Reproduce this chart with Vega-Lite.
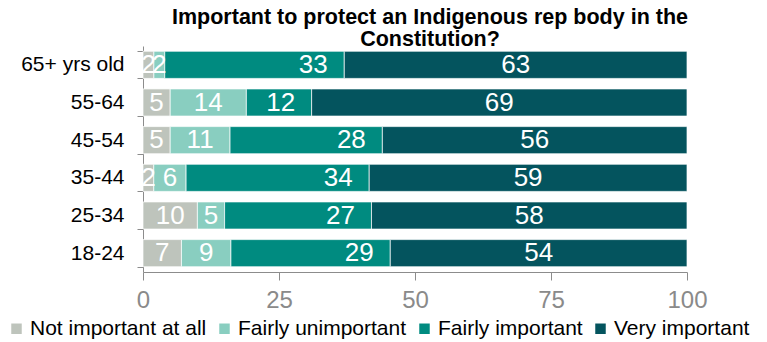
{
  "$schema": "https://vega.github.io/schema/vega-lite/v6.json",
  "width": 544,
  "height": 226,
  "autosize": {"type": "none"},
  "padding": {"left": 143, "top": 46, "right": 80, "bottom": 70},
  "config": {"font": "Liberation Sans", "view": {"stroke": null}},
  "title": {
    "text": ["Important to protect an Indigenous rep body in the", "Constitution?"],
    "fontSize": 21.5,
    "fontWeight": "bold",
    "color": "#000000",
    "anchor": "middle",
    "frame": "group",
    "dx": 15,
    "offset": -15,
    "lineHeight": 22
  },
  "data": {
    "values": [
      {"age": "65+ yrs old", "category": "Not important at all", "value": 2, "order": 1},
      {"age": "65+ yrs old", "category": "Fairly unimportant", "value": 2, "order": 2},
      {"age": "65+ yrs old", "category": "Fairly important", "value": 33, "order": 3},
      {"age": "65+ yrs old", "category": "Very important", "value": 63, "order": 4},
      {"age": "55-64", "category": "Not important at all", "value": 5, "order": 1},
      {"age": "55-64", "category": "Fairly unimportant", "value": 14, "order": 2},
      {"age": "55-64", "category": "Fairly important", "value": 12, "order": 3},
      {"age": "55-64", "category": "Very important", "value": 69, "order": 4},
      {"age": "45-54", "category": "Not important at all", "value": 5, "order": 1},
      {"age": "45-54", "category": "Fairly unimportant", "value": 11, "order": 2},
      {"age": "45-54", "category": "Fairly important", "value": 28, "order": 3},
      {"age": "45-54", "category": "Very important", "value": 56, "order": 4},
      {"age": "35-44", "category": "Not important at all", "value": 2, "order": 1},
      {"age": "35-44", "category": "Fairly unimportant", "value": 6, "order": 2},
      {"age": "35-44", "category": "Fairly important", "value": 34, "order": 3},
      {"age": "35-44", "category": "Very important", "value": 59, "order": 4},
      {"age": "25-34", "category": "Not important at all", "value": 10, "order": 1},
      {"age": "25-34", "category": "Fairly unimportant", "value": 5, "order": 2},
      {"age": "25-34", "category": "Fairly important", "value": 27, "order": 3},
      {"age": "25-34", "category": "Very important", "value": 58, "order": 4},
      {"age": "18-24", "category": "Not important at all", "value": 7, "order": 1},
      {"age": "18-24", "category": "Fairly unimportant", "value": 9, "order": 2},
      {"age": "18-24", "category": "Fairly important", "value": 29, "order": 3},
      {"age": "18-24", "category": "Very important", "value": 54, "order": 4}
    ]
  },
  "transform": [
    {"stack": "value", "groupby": ["age"], "offset": "normalize", "sort": [{"field": "order", "order": "ascending"}], "as": ["x0", "x1"]},
    {"calculate": "(datum.x0 + datum.x1) / 2", "as": "mid"}
  ],
  "encoding": {
    "y": {
      "field": "age",
      "type": "nominal",
      "sort": ["65+ yrs old", "55-64", "45-54", "35-44", "25-34", "18-24"],
      "scale": {"paddingInner": 0.28, "paddingOuter": 0.14},
      "axis": {
        "title": null,
        "tickBand": "extent",
        "domainColor": "#8c8c8c",
        "tickColor": "#8c8c8c",
        "tickSize": 6,
        "labelFontSize": 21,
        "labelColor": "#000000",
        "labelPadding": 13
      }
    }
  },
  "layer": [
    {
      "mark": {"type": "bar", "stroke": "#ffffff", "strokeWidth": 0.7},
      "encoding": {
        "x": {
          "field": "x0",
          "type": "quantitative",
          "scale": {"domain": [0, 1], "nice": false},
          "axis": {
            "title": null,
            "values": [0, 0.25, 0.5, 0.75, 1],
            "labelExpr": "format(datum.value * 100, 'd')",
            "labelFlush": false,
            "grid": false,
            "domainColor": "#8c8c8c",
            "tickColor": "#8c8c8c",
            "tickSize": 8,
            "labelFontSize": 24,
            "labelColor": "#8a8a8a",
            "labelPadding": 8
          }
        },
        "x2": {"field": "x1"},
        "color": {
          "field": "category",
          "type": "nominal",
          "scale": {
            "domain": ["Not important at all", "Fairly unimportant", "Fairly important", "Very important"],
            "range": ["#bec4bc", "#89cec0", "#008b80", "#04545e"]
          },
          "legend": {
            "title": null,
            "orient": "none",
            "direction": "horizontal",
            "columns": 4,
            "legendX": -137,
            "legendY": 272,
            "padding": 0,
            "symbolType": "square",
            "symbolSize": 110,
            "symbolStrokeWidth": 0,
            "labelFontSize": 21,
            "labelColor": "#000000",
            "labelOffset": 3,
            "columnPadding": 7,
            "labelLimit": 300
          }
        }
      }
    },
    {
      "transform": [{"filter": "datum.category != 'Fairly important'"}],
      "mark": {"type": "text", "color": "#ffffff", "fontSize": 26, "align": "center", "baseline": "middle"},
      "encoding": {
        "x": {"field": "mid", "type": "quantitative"},
        "text": {"field": "value", "type": "quantitative"}
      }
    },
    {
      "transform": [{"filter": "datum.category == 'Fairly important'"}],
      "mark": {"type": "text", "color": "#ffffff", "fontSize": 26, "align": "center", "baseline": "middle", "dx": -31},
      "encoding": {
        "x": {"field": "x1", "type": "quantitative"},
        "text": {"field": "value", "type": "quantitative"}
      }
    }
  ]
}
